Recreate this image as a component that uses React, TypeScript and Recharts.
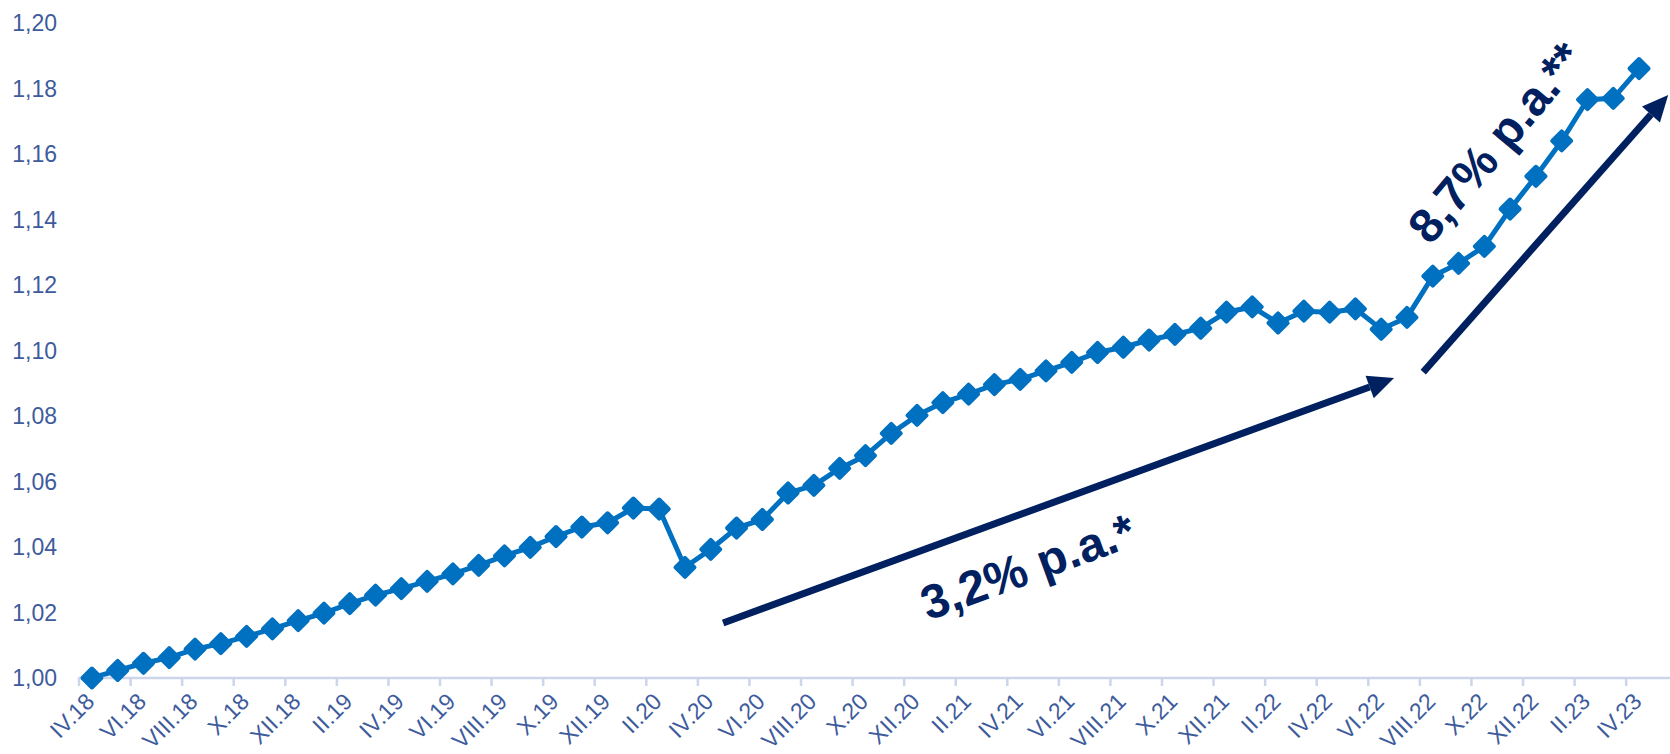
import React from 'react';
import { LineChart, Line, XAxis, YAxis, ReferenceLine, ReferenceDot } from 'recharts';

const MONTHS = [
  'IV.18', 'V.18', 'VI.18', 'VII.18', 'VIII.18', 'IX.18', 'X.18', 'XI.18', 'XII.18',
  'I.19', 'II.19', 'III.19', 'IV.19', 'V.19', 'VI.19', 'VII.19', 'VIII.19', 'IX.19', 'X.19', 'XI.19', 'XII.19',
  'I.20', 'II.20', 'III.20', 'IV.20', 'V.20', 'VI.20', 'VII.20', 'VIII.20', 'IX.20', 'X.20', 'XI.20', 'XII.20',
  'I.21', 'II.21', 'III.21', 'IV.21', 'V.21', 'VI.21', 'VII.21', 'VIII.21', 'IX.21', 'X.21', 'XI.21', 'XII.21',
  'I.22', 'II.22', 'III.22', 'IV.22', 'V.22', 'VI.22', 'VII.22', 'VIII.22', 'IX.22', 'X.22', 'XI.22', 'XII.22',
  'I.23', 'II.23', 'III.23', 'IV.23',
];

const VALUES = [
  1.0, 1.0023, 1.0045, 1.0062, 1.0088, 1.0105, 1.0127, 1.015, 1.0175,
  1.0198, 1.0227, 1.0253, 1.0273, 1.0295, 1.0318, 1.0344, 1.0373, 1.0399, 1.0432, 1.0461, 1.0474,
  1.0519, 1.0516, 1.0338, 1.0393, 1.0458, 1.0484, 1.0565, 1.0588, 1.064, 1.0679, 1.0747, 1.0802,
  1.0841, 1.0867, 1.0896, 1.0912, 1.0938, 1.0964, 1.0994, 1.101, 1.1032, 1.1049, 1.1068, 1.1117,
  1.1133, 1.1084, 1.112, 1.1117, 1.1127, 1.1065, 1.1101, 1.1227, 1.1266, 1.1318, 1.1432, 1.1532,
  1.164, 1.1766, 1.177, 1.1861,
];

const Y_TICKS = [1.0, 1.02, 1.04, 1.06, 1.08, 1.1, 1.12, 1.14, 1.16, 1.18, 1.2];

const TREND_LABELS = ['3,2% p.a.*', '8,7% p.a.**'];

// annotation placement, in data units (x = month index, y = index value)
const ARROW_1 = [{ x: 24.48, y: 1.0168 }, { x: 50.5, y: 1.0916 }];
const ARROW_2 = [{ x: 51.63, y: 1.0934 }, { x: 61.13, y: 1.178 }];
const TEXT_1 = { x: 36.3, y: 1.0339, angle: -20 };
const TEXT_2 = { x: 54.45, y: 1.1635, angle: -50 };

const LINE_COLOR = '#0070C0';
const NAVY = '#002060';
const AXIS_TEXT = '#3E5B9C';
const AXIS_LINE = '#CCD5EA';
const FONT = '"Liberation Sans", Arial, sans-serif';

const data = VALUES.map((v, i) => ({ i, v }));
const labelTicks = MONTHS.map((_, i) => i).filter((i) => i % 2 === 0);
const boundaryTicks = labelTicks.map((i) => i - 0.5);
const X_DOMAIN = [-0.5, 61.2];

const Diamond = (props: any) => {
  const { cx, cy, index } = props;
  const s = 9.5;
  return (
    <path
      key={`d-${index}`}
      d={`M${cx},${cy - s} L${cx + s},${cy} L${cx},${cy + s} L${cx - s},${cy} Z`}
      fill={LINE_COLOR}
      stroke={LINE_COLOR}
      strokeWidth={4}
      strokeLinejoin="round"
    />
  );
};

const MonthTick = (props: any) => {
  const { x, y, payload } = props;
  const tx = x + 4;
  const ty = y + 24;
  return (
    <text
      x={tx}
      y={ty}
      transform={`rotate(-45, ${tx}, ${ty})`}
      textAnchor="end"
      fill={AXIS_TEXT}
      fontSize={23}
      fontFamily={FONT}
    >
      {MONTHS[payload.value]}
    </text>
  );
};

// tick mark only, no label
const MarkTick = (props: any) => {
  const { x, y, index } = props;
  return <line key={`m-${index}`} x1={x} y1={y - 1} x2={x} y2={y + 8} stroke={AXIS_LINE} strokeWidth={2.5} />;
};

const Arrow = (props: any) => {
  const { x1, y1, x2, y2 } = props;
  const ang = Math.atan2(y2 - y1, x2 - x1);
  const len = 26;
  const half = 12;
  const bx = x2 - len * Math.cos(ang);
  const by = y2 - len * Math.sin(ang);
  const px = -Math.sin(ang) * half;
  const py = Math.cos(ang) * half;
  return (
    <g>
      <line x1={x1} y1={y1} x2={bx} y2={by} stroke={NAVY} strokeWidth={7} />
      <polygon points={`${x2},${y2} ${bx + px},${by + py} ${bx - px},${by - py}`} fill={NAVY} />
    </g>
  );
};

const trendText = (text: string, angle: number) => (props: any) => {
  const { cx, cy } = props;
  return (
    <text
      x={cx}
      y={cy}
      transform={`rotate(${angle}, ${cx}, ${cy})`}
      textAnchor="middle"
      dominantBaseline="central"
      fill={NAVY}
      fontSize={48}
      fontWeight="bold"
      fontFamily={FONT}
    >
      {text}
    </text>
  );
};

const formatY = (v: number) => v.toFixed(2).replace('.', ',');

export default function App() {
  return (
    <div style={{ fontFamily: FONT }}>
      <style>{'body { margin: 0; }'}</style>
      <LineChart width={1670} height={754} data={data} margin={{ top: 23, right: 0, bottom: 0, left: 0 }}>
        <XAxis
          xAxisId="b"
          dataKey="i"
          type="number"
          domain={X_DOMAIN}
          ticks={labelTicks}
          tick={<MonthTick />}
          tickLine={false}
          axisLine={false}
          tickSize={0}
          tickMargin={0}
          interval={0}
          height={75}
          allowDataOverflow
        />
        <XAxis
          xAxisId="a"
          dataKey="i"
          type="number"
          domain={X_DOMAIN}
          ticks={boundaryTicks}
          tick={<MarkTick />}
          tickLine={false}
          tickSize={0}
          tickMargin={0}
          axisLine={{ stroke: AXIS_LINE, strokeWidth: 2.5 }}
          interval={0}
          height={1}
          allowDataOverflow
        />
        <YAxis
          type="number"
          domain={[1.0, 1.2]}
          ticks={Y_TICKS}
          tickFormatter={formatY}
          axisLine={false}
          tickLine={false}
          tickSize={0}
          tickMargin={22}
          width={79}
          tick={{ fill: AXIS_TEXT, fontSize: 23, fontFamily: FONT }}
          interval={0}
        />
        <ReferenceLine xAxisId="b" segment={ARROW_1} shape={Arrow} ifOverflow="visible" />
        <ReferenceLine xAxisId="b" segment={ARROW_2} shape={Arrow} ifOverflow="visible" />
        <ReferenceDot xAxisId="b" x={TEXT_1.x} y={TEXT_1.y} r={1} shape={trendText(TREND_LABELS[0], TEXT_1.angle)} ifOverflow="visible" />
        <ReferenceDot xAxisId="b" x={TEXT_2.x} y={TEXT_2.y} r={1} shape={trendText(TREND_LABELS[1], TEXT_2.angle)} ifOverflow="visible" />
        <Line
          xAxisId="b"
          type="linear"
          dataKey="v"
          stroke={LINE_COLOR}
          strokeWidth={5}
          dot={<Diamond />}
          activeDot={false}
          isAnimationActive={false}
        />
      </LineChart>
    </div>
  );
}
